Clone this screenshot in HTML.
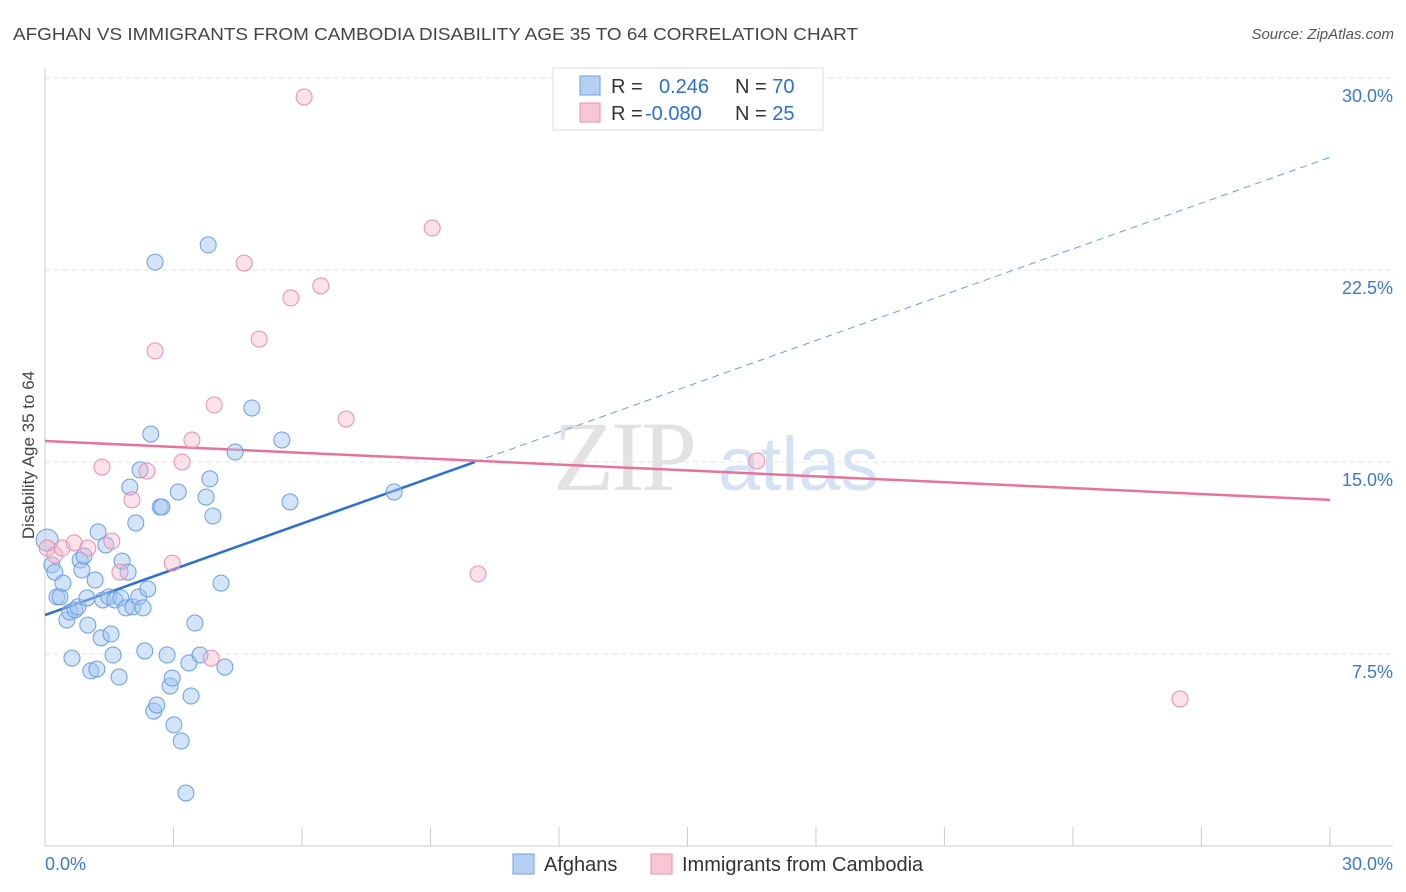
<!DOCTYPE html>
<html><head><meta charset="utf-8"><style>
body{margin:0;background:#fff;font-family:"Liberation Sans",sans-serif;}
svg{display:block}
</style></head><body>
<svg id="chart" width="1406" height="892">
<text x="13" y="40" font-size="17.5" fill="#444" textLength="845" lengthAdjust="spacingAndGlyphs">AFGHAN VS IMMIGRANTS FROM CAMBODIA DISABILITY AGE 35 TO 64 CORRELATION CHART</text>
<text x="1394" y="39" font-size="15" fill="#555" font-style="italic" text-anchor="end">Source: ZipAtlas.com</text>
<g>
<text x="553" y="490" font-size="100" fill="#e2e2e2" font-family="Liberation Serif" letter-spacing="-3">ZIP</text>
<text x="718" y="490" font-size="76" fill="#d4e2f4">atlas</text>
</g>
<g id="grid"></g>
<g id="axes"></g>
<g id="lines"></g>
<g id="points"></g>
<text transform="translate(34,455) rotate(-90)" font-size="17" fill="#444" text-anchor="middle">Disability Age 35 to 64</text>
<g>
<rect x="553" y="68" width="270" height="62" fill="#fff" stroke="#ddd"/>
<rect x="580" y="76" width="20" height="19" fill="#b5d0f3" stroke="#6a9fe0"/>
<rect x="580" y="103" width="20" height="19" fill="#f8c6d5" stroke="#e890ab"/>
<text x="611" y="93" font-size="20" fill="#333">R = <tspan fill="#2a6fd6" x="659">0.246</tspan><tspan x="735" fill="#333">N = </tspan><tspan fill="#2a6fd6">70</tspan></text>
<text x="611" y="120" font-size="20" fill="#333">R = <tspan fill="#2a6fd6" x="645">-0.080</tspan><tspan x="735" fill="#333">N = </tspan><tspan fill="#2a6fd6">25</tspan></text>
</g>
<g>
<rect x="513" y="854" width="21" height="20" fill="#b5d0f3" stroke="#6a9fe0"/>
<text x="544" y="871" font-size="20" fill="#333">Afghans</text>
<rect x="651" y="854" width="21" height="20" fill="#f8c6d5" stroke="#e890ab"/>
<text x="682" y="871" font-size="20" fill="#333">Immigrants from Cambodia</text>
</g>
</svg>
<script>
const yTicks=[7.5,15,22.5,30];
const yTickLabels=["7.5%","15.0%","22.5%","30.0%"];
const xTicks=[0,3,6,9,12,15,18,21,24,27,30];
const xLabels=["0.0%","30.0%"];
const afghanX=[0.05,0.16,0.23,0.28,0.35,0.42,0.51,0.58,0.63,0.70,0.77,0.82,0.86,0.91,0.98,1.00,1.07,1.17,1.21,1.24,1.31,1.35,1.42,1.49,1.54,1.59,1.63,1.73,1.77,1.80,1.89,1.94,1.98,2.05,2.12,2.19,2.22,2.29,2.33,2.40,2.47,2.54,2.57,2.61,2.69,2.73,2.85,2.92,2.97,3.01,3.11,3.18,3.29,3.36,3.41,3.50,3.62,3.76,3.81,3.85,3.92,4.11,4.20,4.44,4.83,5.53,5.72,8.15];
const afghanY=[11.95,10.98,10.70,9.73,9.73,10.27,8.83,9.14,7.34,9.22,9.34,11.17,10.78,11.33,9.69,8.63,6.84,10.39,6.91,12.27,8.13,9.61,11.76,9.73,8.28,7.46,9.61,6.60,9.69,11.13,9.30,10.70,14.02,9.34,12.62,9.73,14.69,9.30,7.62,10.04,16.09,5.27,22.81,5.51,13.24,13.24,7.46,6.25,6.56,4.73,13.83,4.10,2.07,7.15,5.86,8.71,7.46,13.63,23.48,14.34,12.89,10.27,6.99,15.39,17.11,15.86,13.44,13.83];
const cambX=[0.05,0.23,0.40,0.68,1.00,1.33,1.56,1.75,2.03,2.38,2.57,2.97,3.20,3.43,3.88,3.95,4.65,5.00,5.74,6.05,6.44,7.03,9.04,10.11,16.62,26.50];
const cambY=[11.64,11.37,11.64,11.84,11.64,14.80,11.91,10.70,13.52,14.65,19.34,11.05,15.00,15.86,7.34,17.23,22.77,19.80,21.41,29.26,21.88,16.68,24.14,10.63,15.04,5.74];
const blueLine=[9.02,26.9];
const blueSolidEnd=10.04;
const pinkLine=[15.82,13.52];
const NS="http://www.w3.org/2000/svg";
const X=v=>45+v*42.83, Y=v=>846-v*25.6;
function mk(tag,attrs,parent){const e=document.createElementNS(NS,tag);for(const k in attrs)e.setAttribute(k,attrs[k]);document.getElementById(parent).appendChild(e);return e;}
yTicks.forEach((t,i)=>{
  const g=mk('line',{x1:45,x2:1393,y1:Y(t),y2:Y(t),stroke:'#e4e4e4','stroke-dasharray':'5,4'},'grid');
  
  
  const l=mk('text',{x:1393,y:Y(t)+24,'font-size':18,fill:'#3a78d6','text-anchor':'end'},'axes');
  l.textContent=yTickLabels[i];
  
  
});
const ax=mk('line',{x1:45,x2:1393,y1:846,y2:846,stroke:'#ccc'},'axes');


const ay=mk('line',{x1:45,x2:45,y1:68,y2:846,stroke:'#ccc'},'axes');


xTicks.forEach(t=>{
  const k=mk('line',{x1:X(t),x2:X(t),y1:827,y2:846,stroke:'#ccc'},'axes');
  
  
});
const xl0=mk('text',{x:45,y:870,'font-size':18,fill:'#3a78d6'},'axes');xl0.textContent=xLabels[0];


const xl1=mk('text',{x:1393,y:870,'font-size':18,fill:'#3a78d6','text-anchor':'end'},'axes');xl1.textContent=xLabels[1];


afghanX.forEach((v,i)=>{
  const c=mk('circle',{cx:X(v),cy:Y(afghanY[i]),r:i==0?11:8,fill:'rgba(160,196,240,0.45)',stroke:'#6a9fe0','stroke-width':1},'points');
  
  
});
cambX.forEach((v,i)=>{
  const c=mk('circle',{cx:X(v),cy:Y(cambY[i]),r:8,fill:'rgba(245,180,200,0.4)',stroke:'#e890ab','stroke-width':1},'points');
  
  
});
const by=x=>blueLine[0]+(blueLine[1]-blueLine[0])*x/30;
const bs=mk('line',{x1:X(0),y1:Y(by(0)),x2:X(blueSolidEnd),y2:Y(by(blueSolidEnd)),stroke:'#2a6fd6','stroke-width':2.5},'lines');


const bd=mk('line',{x1:X(blueSolidEnd),y1:Y(by(blueSolidEnd)),x2:X(30),y2:Y(by(30)),stroke:'#6a9fe0','stroke-width':1,'stroke-dasharray':'7,5'},'lines');


const pl=mk('line',{x1:X(0),y1:Y(pinkLine[0]),x2:X(30),y2:Y(pinkLine[1]),stroke:'#e8739a','stroke-width':2.5},'lines');


</script>
</body></html>
